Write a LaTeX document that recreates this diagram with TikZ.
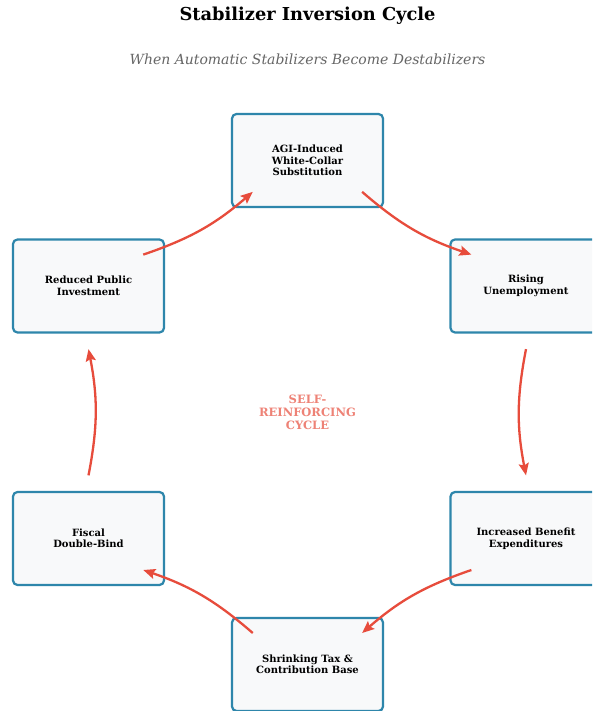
\documentclass[tikz,border=0pt]{standalone}
\usepackage{fontspec}
\setmainfont{DejaVu Serif}
\usetikzlibrary{arrows.meta,calc}
\definecolor{boxborder}{HTML}{2E86AB}
\definecolor{boxfill}{HTML}{F8F9FA}
\definecolor{arrowred}{HTML}{E74C3C}
\definecolor{centertext}{HTML}{EE8276}
\definecolor{subgray}{HTML}{666666}
\tikzset{
  stagebox/.style={draw=boxborder, fill=boxfill, line width=2.2pt, rounded corners=4.5pt,
    minimum width=151pt, minimum height=93pt, inner sep=0pt, align=center,
    font=\bfseries\fontsize{10}{11.5}\selectfont},
  flowarrow/.style={draw=arrowred, line width=2.3pt, -{Stealth[length=12pt,width=10pt,inset=2pt]}, bend right=11},
}
\begin{document}
\begin{tikzpicture}[x=1pt,y=1pt]
\clip (0,0) rectangle (592,711);
\fill[white] (0,0) rectangle (592,711);
\node[font=\bfseries\fontsize{17.8}{20}\selectfont] (title) at (307.5,695) {Stabilizer Inversion Cycle};
\node[font=\itshape\fontsize{14}{16}\selectfont, text=subgray] (subtitle) at (307.5,652) {When Automatic Stabilizers Become Destabilizers};
\node[stagebox] (agi) at (307.5,550.5) {AGI-Induced\\White-Collar\\Substitution};
\node[stagebox] (unemp) at (526,425) {Rising\\Unemployment};
\node[stagebox] (benefit) at (526,172.5) {Increased Benefit\\Expenditures};
\node[stagebox] (tax) at (307.5,46.5) {Shrinking Tax \&\\Contribution Base};
\node[stagebox] (fiscal) at (88.5,172.5) {Fiscal\\Double-Bind};
\node[stagebox] (invest) at (88.5,425) {Reduced Public\\Investment};
\node[font=\bfseries\fontsize{11.5}{13}\selectfont, text=centertext, align=center] (cycle) at (307.5,299) {SELF-\\REINFORCING\\CYCLE};
\foreach \a/\b in {agi/unemp, unemp/benefit, benefit/tax, tax/fiscal, fiscal/invest, invest/agi}{
  \coordinate (s-\a) at ($(\a.center)!0.25!(\b.center)$);
  \coordinate (e-\a) at ($(\a.center)!0.75!(\b.center)$);
  \draw[flowarrow] (s-\a) to (e-\a);
}
\end{tikzpicture}
\end{document}
